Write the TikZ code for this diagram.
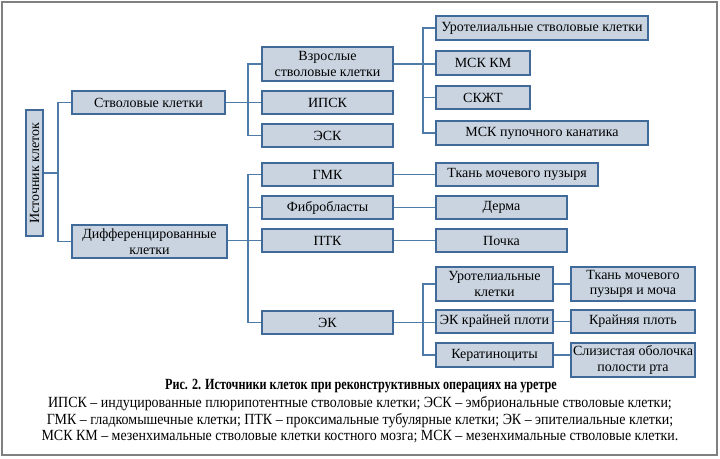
\documentclass[tikz,border=0pt]{standalone}
\usepackage{fontspec}
\setmainfont{Liberation Serif}
\newfontfamily\capfont[FakeStretch=0.9]{Liberation Serif}
\newfontfamily\titfont[FakeStretch=0.785]{Liberation Serif}
\definecolor{boxfill}{HTML}{C9D4E0}
\definecolor{boxline}{HTML}{3F6A9A}
\definecolor{conn}{HTML}{4F7BA8}
\definecolor{frame}{HTML}{808080}
\begin{document}
\begin{tikzpicture}[x=1pt,y=-1pt,
  cbox/.style={draw=boxline,fill=boxfill,line width=1.3pt,inner sep=0pt,align=center,
    font=\fontsize{14}{15.5}\selectfont},
  link/.style={draw=conn,line width=1.2pt},
  captext/.style={inner sep=0pt,font=\capfont\fontsize{15.5}{17}\selectfont}]
\useasboundingbox (0,0) rectangle (720,458);
\draw[frame,line width=1.6pt] (2,2) rectangle (717,455);
% boxes: corners
\newcommand{\bx}[6]{\node[cbox,minimum width=#4-#2,minimum height=#5-#3] (#1) at ({(#2+#4)/2},{(#3+#5)/2}) {#6};}
\node[cbox,rotate=90,minimum width=126,minimum height=17] (src) at (34.5,173) {Источник клеток};
\bx{stem}{72}{91}{225}{114}{Стволовые клетки}
\bx{diff}{72}{225}{227}{258}{Дифференцированные\\клетки}
\bx{adult}{262}{47}{393}{81}{Взрослые\\стволовые клетки}
\bx{ipsk}{262}{91}{393}{114}{ИПСК}
\bx{esk}{262}{124}{393}{147}{ЭСК}
\bx{uro}{436}{16}{648}{40}{Уротелиальные стволовые клетки}
\bx{mskkm}{436}{51}{530}{75}{МСК КМ}
\bx{skzht}{436}{86}{530}{109}{СКЖТ}
\bx{mskp}{436}{121}{648}{145}{МСК пупочного канатика}
\bx{gmk}{262}{163}{393}{186}{ГМК}
\bx{fib}{262}{196}{393}{219}{Фибробласты}
\bx{ptk}{262}{229}{393}{252}{ПТК}
\bx{ek}{262}{311}{393}{334}{ЭК}
\bx{tkan}{436}{163}{598}{186}{Ткань мочевого пузыря}
\bx{derma}{436}{196}{567}{219}{Дерма}
\bx{pochka}{436}{229}{567}{252}{Почка}
\bx{urocells}{436}{267}{553}{301}{Уротелиальные\\клетки}
\bx{ekkp}{436}{310}{553}{333}{ЭК крайней плоти}
\bx{kerat}{436}{343}{553}{367}{Кератиноциты}
\bx{tkm}{571}{267}{695}{301}{Ткань мочевого\\пузыря и моча}
\bx{kp}{571}{310}{695}{333}{Крайняя плоть}
\bx{sliz}{571}{343}{695}{377}{Слизистая оболочка\\полости рта}
% trunks
\coordinate (tA) at (58,0);
\coordinate (tB) at (248,0);
\coordinate (tC) at (423,0);
% connectors
\draw[link] (src.south) -- (src.south -| tA);
\draw[link] (stem.west) -- (stem.west -| tA) -- (diff.west -| tA) -- (diff.west);
\draw[link] (stem.east) -- (stem.east -| ipsk.west);
\draw[link] (adult.west) -- (adult.west -| tB) -- (esk.west -| tB) -- (esk.west);
\draw[link] (adult.east) -- (adult.east -| mskkm.west);
\draw[link] (uro.west) -- (uro.west -| tC) -- (mskp.west -| tC) -- (mskp.west);
\draw[link] (skzht.west) -- (skzht.west -| tC);
\draw[link] (diff.east |- ptk.west) -- (ptk.west);
\draw[link] (gmk.west) -- (gmk.west -| tB) -- (ek.west -| tB) -- (ek.west);
\draw[link] (fib.west) -- (fib.west -| tB);
\draw[link] (gmk.east) -- (tkan.west);
\draw[link] (fib.east) -- (derma.west);
\draw[link] (ptk.east) -- (pochka.west);
\draw[link] (ek.east) -- (ek.east -| ekkp.west);
\draw[link] (urocells.west) -- (urocells.west -| tC) -- (kerat.west -| tC) -- (kerat.west);
\draw[link] (urocells.east) -- (tkm.west);
\draw[link] (ekkp.east) -- (kp.west);
\draw[link] (kerat.east) -- (kerat.east -| sliz.west);
% caption
\node[inner sep=0pt,font=\titfont\bfseries\fontsize{15.5}{17}\selectfont] (title) at (361,386) {Рис. 2. Источники клеток при реконструктивных операциях на уретре};
\node[captext] (c1) at (360,404) {ИПСК – индуцированные плюрипотентные стволовые клетки; ЭСК – эмбриональные стволовые клетки;};
\node[captext] (c2) at (360,421) {ГМК – гладкомышечные клетки; ПТК – проксимальные тубулярные клетки; ЭК – эпителиальные клетки;};
\node[captext] (c3) at (360,437) {МСК КМ – мезенхимальные стволовые клетки костного мозга; МСК – мезенхимальные стволовые клетки.};
\end{tikzpicture}
\end{document}
